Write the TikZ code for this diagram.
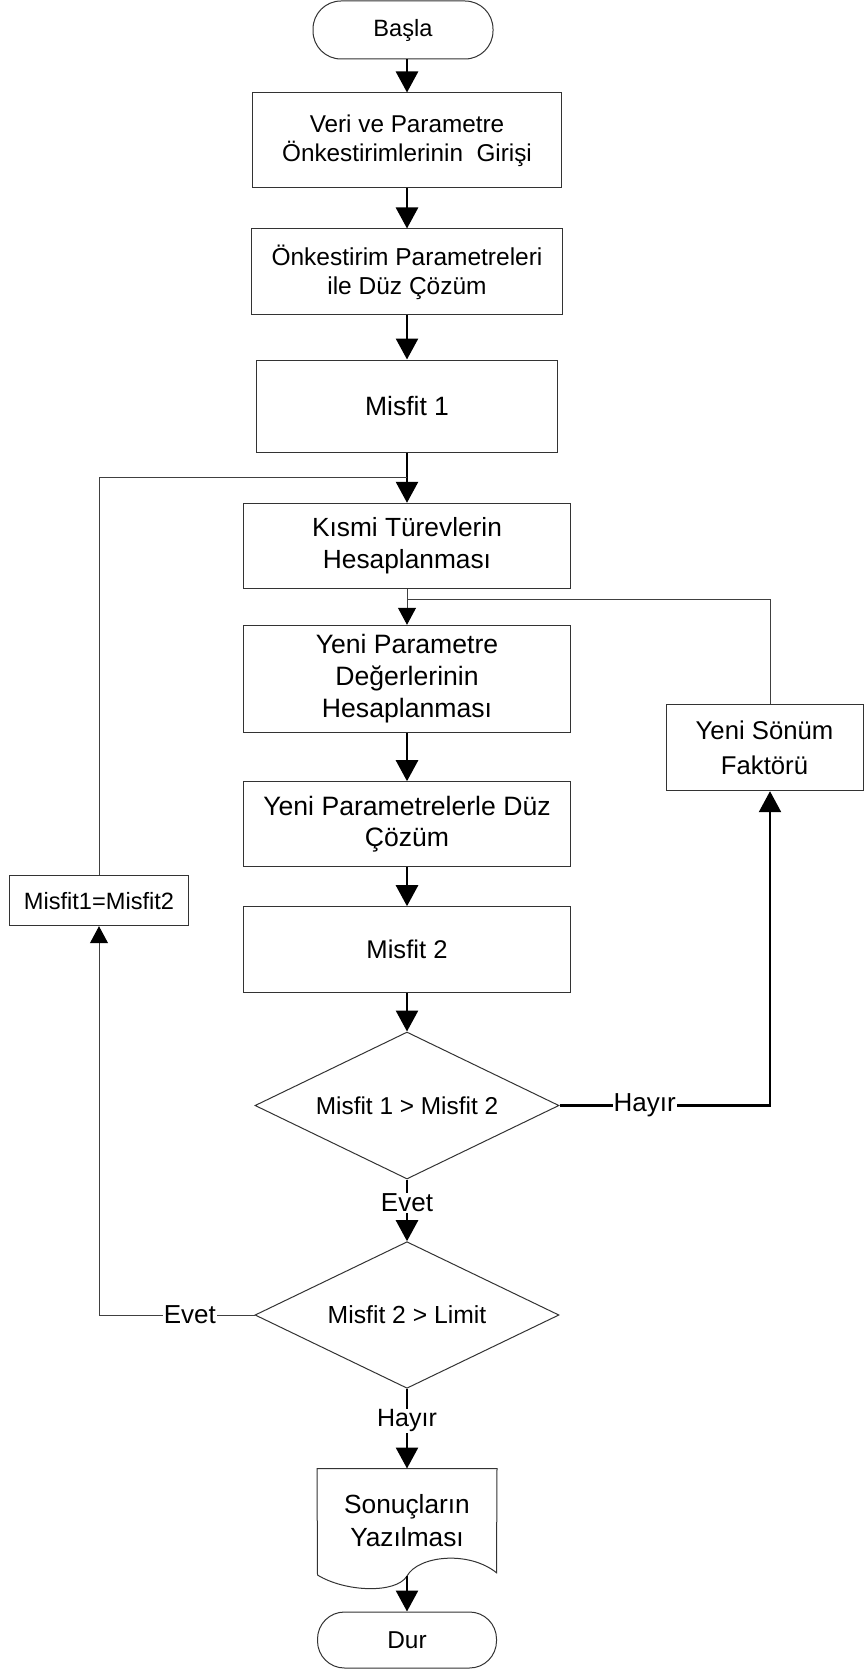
\documentclass[tikz,border=0pt]{standalone}
\usepackage{fontspec}
\setmainfont{Liberation Sans}
\usetikzlibrary{shapes.geometric,arrows.meta}
\begin{document}
\begin{tikzpicture}[x=1pt,y=-1pt,
  box/.style={draw=black!80,line width=1pt,rectangle,inner sep=0pt,align=center,
    font=\fontsize{24pt}{32pt}\selectfont},
  terminal/.style={box,rounded corners=28pt},
  decision/.style={box,diamond,aspect=2.07,inner sep=0pt},
  flow/.style={line width=2.7pt,-{Triangle[length=21pt,width=22pt]}},
  thinflow/.style={draw=black!75,line width=1pt,-{Triangle[length=17pt,width=18pt,color=black,fill=black]}},
  thinline/.style={draw=black!75,line width=1pt},
  lbl/.style={fill=white,inner sep=1pt,font=\fontsize{26pt}{28pt}\selectfont}]
\useasboundingbox (0,0) rectangle (864,1669);
\fill[white] (0,0) rectangle (864,1669);

\node[terminal,minimum width=180pt,minimum height=58pt,font=\fontsize{23.6pt}{28pt}\selectfont] (basla) at (403,30) {Başla};
\node[box,minimum width=309pt,minimum height=95pt,font=\fontsize{24.3pt}{29.3pt}\selectfont] (n1) at (407,140.5)
  {Veri ve Parametre\\Önkestirimlerinin~ Girişi};
\node[box,minimum width=311pt,minimum height=86pt,font=\fontsize{24.5pt}{29pt}\selectfont] (n2) at (407,272)
  {Önkestirim Parametreleri\\ile Düz Çözüm};
\node[box,minimum width=301pt,minimum height=92pt,font=\fontsize{26.5pt}{32pt}\selectfont] (m1) at (407,406) {Misfit 1};
\node[box,minimum width=327pt,minimum height=85pt,font=\fontsize{26.3pt}{32.4pt}\selectfont] (kt) at (407,545.8)
  {Kısmi Türevlerin\\Hesaplanması};
\node[box,minimum width=327pt,minimum height=107.4pt,font=\fontsize{26.6pt}{32pt}\selectfont] (yp) at (407,679)
  {Yeni Parametre\\Değerlerinin\\Hesaplanması};
\node[box,minimum width=327pt,minimum height=85pt,font=\fontsize{26.6pt}{31.7pt}\selectfont] (ypd) at (407,824.2)
  {Yeni Parametrelerle Düz\\Çözüm};
\node[box,minimum width=327pt,minimum height=85.6pt,font=\fontsize{25.6pt}{32pt}\selectfont] (m2) at (407,949.5) {Misfit 2};
\node[decision,minimum width=304pt,minimum height=147pt,font=\fontsize{24.4pt}{28pt}\selectfont] (d1) at (407,1105.5) {Misfit 1 > Misfit 2};
\node[decision,minimum width=304pt,minimum height=146.6pt,font=\fontsize{24.7pt}{28pt}\selectfont] (d2) at (407,1315) {Misfit 2 > Limit};
\node[box,minimum width=197pt,minimum height=86.4pt,font=\fontsize{25.7pt}{34.7pt}\selectfont] (ysf) at (764.5,747.5)
  {Yeni Sönüm\\Faktörü};
\node[box,minimum width=179.4pt,minimum height=50pt,font=\fontsize{23.6pt}{28pt}\selectfont] (m12) at (99,900.7) {Misfit1=Misfit2};
\node[box,draw=none,minimum width=179pt,minimum height=104pt,font=\fontsize{26.3pt}{33pt}\selectfont] (sonuc) at (407,1521)
  {Sonuçların\\Yazılması};
\draw[black!80,line width=1pt] (sonuc.north west) -- (sonuc.north east) -- (496.5,1572.7)
  .. controls (468,1550) and (418,1556) .. (407,1576)
  .. controls (396,1594) and (345,1592) .. (317.5,1575) -- cycle;
\coordinate (wave) at (407,1576);
\node[terminal,minimum width=179pt,minimum height=56pt,rounded corners=27pt,font=\fontsize{24.4pt}{28pt}\selectfont] (dur) at (407,1640) {Dur};

\coordinate (j1) at (407,477.7);
\coordinate (j2) at (407,599.3);

\draw[flow] (n1.north |- basla.south) -- (n1.north);
\draw[flow] (n1) -- (n2);
\draw[flow] (n2) -- (m1);
\draw[flow] (m1) -- (kt);
\draw[thinflow] (kt) -- (yp);
\draw[flow] (yp) -- (ypd);
\draw[flow] (ypd) -- (m2);
\draw[flow] (m2) -- (d1);
\draw[flow] (d1) -- node[lbl,pos=0.38] {Evet} (d2);
\draw[flow] (d2) -- node[lbl,pos=0.4,font=\fontsize{25pt}{28pt}\selectfont] {Hayır} (sonuc);
\draw[flow] (wave) -- (dur);
\draw[flow,line width=2.4pt] (d1.east) -| node[lbl,pos=0.2025] {Hayır} ([xshift=5.5pt]ysf.south);
\draw[thinline] ([xshift=5.5pt]ysf.north) |- (j2);
\draw[thinflow] (d2.west) -| node[lbl,pos=0.208] {Evet} (m12.south);
\draw[thinline] (m12.north) |- (j1);
\end{tikzpicture}
\end{document}
